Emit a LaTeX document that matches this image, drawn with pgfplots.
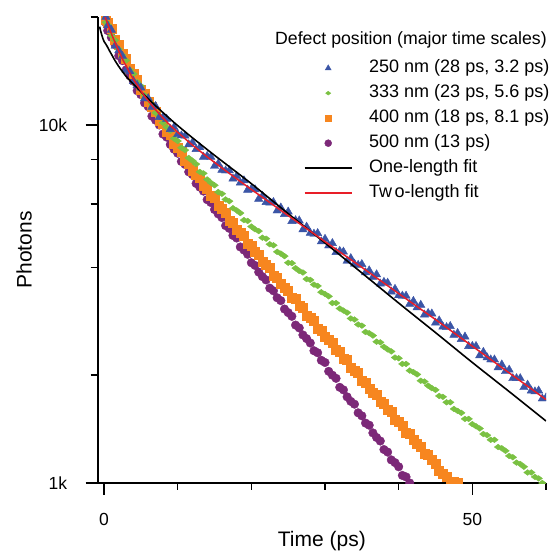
\documentclass[border=0pt]{standalone}
\usepackage{fontspec}
\setmainfont{Liberation Sans}
\usepackage{pgfplots}
\pgfplotsset{compat=1.18}
\definecolor{cblue}{RGB}{59,85,166}
\definecolor{cgreen}{RGB}{122,193,66}
\definecolor{corange}{RGB}{247,134,31}
\definecolor{cpurple}{RGB}{124,40,120}
\definecolor{cred}{RGB}{232,30,40}
\begin{document}
\begin{tikzpicture}
\useasboundingbox (-97.7bp,-69bp) rectangle (459.3bp,483bp);
\begin{axis}[
  clip marker paths=true,
  at={(0,0)}, anchor=south west,
  scale only axis, width=448.3bp, height=466bp,
  xmin=-0.86, xmax=60, ymode=log, ymin=1, ymax=20,
  axis lines=left, axis line style={-, line width=1.8bp},
  tick align=outside,
  xtick={0,50}, xticklabels={0,50}, minor xtick={10,20,30,40,60},
  ytick={1,10}, yticklabels={1k,10k}, minor ytick={2,4,6,8,20},
  major tick length=12bp, minor tick length=7bp,
  tick style={black, line width=1.6bp},
  /pgf/number format/assume math mode=true,
  tick label style={font=\fontsize{17.5bp}{20bp}\selectfont},
  xticklabel style={yshift=-15bp},
  yticklabel style={xshift=-15bp},
  xlabel={Time (ps)}, ylabel={Photons},
  label style={font=\fontsize{21bp}{24bp}\selectfont},
  xlabel style={at={(rel axis cs:0.5,0)}, anchor=base, yshift=-63bp},
  ylabel style={at={(rel axis cs:0,0.5)}, anchor=base, yshift=66bp},
  legend style={draw=none, fill=none, at={(rel axis cs:0.460,0.9084)}, anchor=north west,
    inner sep=0pt, outer sep=0pt, font=\fontsize{18bp}{21bp}\selectfont, row sep=8bp,
    nodes={inner sep=0pt, text height=13bp, text depth=4bp},
    /tikz/every odd column/.append style={column sep=16.7bp}},
  legend cell align=left,
  legend image code/.code={\draw[mark repeat=2,mark phase=2,#1] plot coordinates {(0bp,0bp) (23.5bp,0bp) (47bp,0bp)};},
]
\addlegendimage{only marks, mark=triangle*, color=cblue, mark size=3.4bp}
\addlegendentry{250 nm (28 ps, 3.2 ps)}
\addlegendimage{only marks, mark=diamond*, color=cgreen, mark size=2.6bp, mark options={rotate=90}}
\addlegendentry{333 nm (23 ps, 5.6 ps)}
\addlegendimage{only marks, mark=square*, color=corange, mark size=3.4bp}
\addlegendentry{400 nm (18 ps, 8.1 ps)}
\addlegendimage{only marks, mark=*, color=cpurple, mark size=3.5bp}
\addlegendentry{500 nm (13 ps)}
\addlegendimage{black, line width=1.6bp}
\addlegendentry{One-length fit}
\addlegendimage{color=cred, line width=1.4bp}
\addlegendentry{Tw\kern2.5bp o-length fit}

% 500 nm
\addplot[only marks, mark=*, color=cpurple, mark size=4.3bp, forget plot] coordinates {
(0.25,19.27)(0.5,18.32)(1,17.54)(1.5,16.75)(2,15.59)(2.5,15.11)(3,14.24)(3.5,13.70)(4,13.23)(4.5,12.45)(5,12.14)(5.5,11.51)(6,11.24)(6.5,10.57)(7,10.30)(7.5,9.99)(8,9.42)(8.5,9.24)(9,8.81)(9.5,8.55)(10,8.33)(10.5,7.90)(11,7.75)(11.5,7.39)(12,7.26)(12.5,6.86)(13,6.70)(13.5,6.53)(14,6.18)(14.5,6.07)(15,5.80)(15.5,5.64)(16,5.51)(16.5,5.23)(17,5.14)(17.5,4.91)(18,4.83)(18.5,4.56)(19,4.47)(19.5,4.35)(20,4.12)(20.5,4.05)(21,3.88)(21.5,3.77)(22,3.69)(22.5,3.50)(23,3.44)(23.5,3.29)(24,3.23)(24.5,3.06)(25,2.99)(25.5,2.92)(26,2.76)(26.5,2.71)(27,2.59)(27.5,2.53)(28,2.46)(28.5,2.34)(29,2.31)(29.5,2.20)(30,2.17)(30.5,2.05)(31,2.00)(31.5,1.96)(32,1.85)(32.5,1.82)(33,1.74)(33.5,1.69)(34,1.66)(34.5,1.57)(35,1.54)(35.5,1.47)(36,1.45)(36.5,1.38)(37,1.34)(37.5,1.31)(38,1.24)(38.5,1.22)(39,1.16)(39.5,1.14)(40,1.11)(40.5,1.05)(41,1.04)(41.5,1.00)
};
% 400 nm
\addplot[only marks, mark=square*, color=corange, mark size=4.5bp, forget plot] coordinates {
(0.25,19.66)(0.5,19.27)(1,18.50)(1.5,17.29)(2,16.74)(2.5,15.78)(3,15.30)(3.5,14.31)(4,13.85)(4.5,13.35)(5,12.53)(5.5,12.22)(6,11.60)(6.5,11.22)(7,10.89)(7.5,10.29)(8,10.06)(8.5,9.58)(9,9.38)(9.5,8.85)(10,8.65)(10.5,8.40)(11,7.95)(11.5,7.81)(12,7.47)(12.5,7.27)(13,7.10)(13.5,6.76)(14,6.64)(14.5,6.35)(15,6.25)(15.5,5.93)(16,5.82)(16.5,5.68)(17,5.39)(17.5,5.33)(18,5.11)(18.5,4.99)(19,4.89)(19.5,4.66)(20,4.60)(20.5,4.41)(21,4.35)(21.5,4.14)(22,4.07)(22.5,3.98)(23,3.78)(23.5,3.74)(24,3.60)(24.5,3.52)(25,3.45)(25.5,3.29)(26,3.26)(26.5,3.13)(27,3.09)(27.5,2.94)(28,2.89)(28.5,2.83)(29,2.70)(29.5,2.66)(30,2.56)(30.5,2.51)(31,2.46)(31.5,2.35)(32,2.33)(32.5,2.23)(33,2.21)(33.5,2.10)(34,2.06)(34.5,2.03)(35,1.93)(35.5,1.90)(36,1.83)(36.5,1.79)(37,1.76)(37.5,1.69)(38,1.66)(38.5,1.60)(39,1.58)(39.5,1.50)(40,1.48)(40.5,1.45)(41,1.38)(41.5,1.37)(42,1.32)(42.5,1.29)(43,1.26)(43.5,1.21)(44,1.20)(44.5,1.16)(45,1.13)(45.5,1.08)(46,1.06)(46.5,1.04)(47,1.00)(47.5,1.01)(48,1.00)
};
% 333 nm
\addplot[only marks, mark=diamond*, color=cgreen, mark size=3.8bp, mark options={rotate=90}, forget plot] coordinates {
(0.25,19.34)(0.5,19.02)(1,17.74)(1.5,17.22)(2,16.26)(2.5,15.64)(3,15.12)(3.5,14.24)(4,13.87)(4.5,13.16)(5,12.84)(5.5,12.09)(6,11.78)(6.5,11.43)(7,10.80)(7.5,10.60)(8,10.13)(8.5,9.85)(9,9.63)(9.5,9.16)(10,9.01)(10.5,8.63)(11,8.50)(11.5,8.08)(12,7.94)(12.5,7.77)(13,7.39)(13.5,7.32)(14,7.04)(14.5,6.89)(15,6.78)(15.5,6.49)(16,6.42)(16.5,6.19)(17,6.12)(17.5,5.85)(18,5.77)(18.5,5.67)(19,5.42)(19.5,5.39)(20,5.20)(20.5,5.11)(21,5.05)(21.5,4.84)(22,4.81)(22.5,4.64)(23,4.61)(23.5,4.42)(24,4.37)(24.5,4.30)(25,4.12)(25.5,4.11)(26,3.98)(26.5,3.91)(27,3.87)(27.5,3.71)(28,3.69)(28.5,3.58)(29,3.55)(29.5,3.41)(30,3.37)(30.5,3.32)(31,3.18)(31.5,3.18)(32,3.07)(32.5,3.03)(33,2.99)(33.5,2.88)(34,2.86)(34.5,2.77)(35,2.75)(35.5,2.64)(36,2.62)(36.5,2.58)(37,2.48)(37.5,2.47)(38,2.40)(38.5,2.36)(39,2.33)(39.5,2.24)(40,2.23)(40.5,2.15)(41,2.15)(41.5,2.06)(42,2.04)(42.5,2.01)(43,1.93)(43.5,1.92)(44,1.87)(44.5,1.84)(45,1.82)(45.5,1.75)(46,1.74)(46.5,1.68)(47,1.68)(47.5,1.61)(48,1.59)(48.5,1.57)(49,1.51)(49.5,1.51)(50,1.46)(50.5,1.44)(51,1.42)(51.5,1.37)(52,1.36)(52.5,1.32)(53,1.32)(53.5,1.26)(54,1.25)(54.5,1.23)(55,1.19)(55.5,1.18)(56,1.14)(56.5,1.13)(57,1.11)(57.5,1.07)(58,1.07)(58.5,1.04)(59,1.03)(59.5,1.00)
};
% 250 nm
\addplot[only marks, mark=triangle*, color=cblue, mark size=4.8bp, forget plot] coordinates {
(0.25,20.0)(0.5,18.94)(1,18.40)(1.5,16.61)(2,16.12)(2.5,15.55)(3,14.22)(3.5,14.10)(4,13.24)(4.5,12.90)(5,12.69)(5.5,11.84)(6,11.85)(6.5,11.22)(7,11.27)(7.5,10.50)(8,10.49)(8.5,10.38)(9,9.72)(9.5,9.84)(10,9.41)(10.5,9.33)(11,9.32)(11.5,8.81)(12,8.92)(12.5,8.55)(13,8.65)(13.5,8.13)(14,8.18)(14.5,8.13)(15,7.67)(15.5,7.79)(16,7.48)(16.5,7.45)(17,7.46)(17.5,7.07)(18,7.19)(18.5,6.89)(19,6.99)(19.5,6.58)(20,6.62)(20.5,6.60)(21,6.21)(21.5,6.33)(22,6.08)(22.5,6.06)(23,6.08)(23.5,5.76)(24,5.87)(24.5,5.63)(25,5.72)(25.5,5.38)(26,5.41)(26.5,5.40)(27,5.10)(27.5,5.19)(28,4.99)(28.5,4.96)(29,4.98)(29.5,4.72)(30,4.80)(30.5,4.60)(31,4.67)(31.5,4.41)(32,4.44)(32.5,4.42)(33,4.17)(33.5,4.24)(34,4.09)(34.5,4.06)(35,4.08)(35.5,3.87)(36,3.92)(36.5,3.76)(37,3.82)(37.5,3.60)(38,3.64)(38.5,3.62)(39,3.42)(39.5,3.48)(40,3.34)(40.5,3.33)(41,3.33)(41.5,3.16)(42,3.22)(42.5,3.09)(43,3.14)(43.5,2.95)(44,2.98)(44.5,2.97)(45,2.80)(45.5,2.84)(46,2.73)(46.5,2.72)(47,2.74)(47.5,2.59)(48,2.62)(48.5,2.52)(49,2.56)(49.5,2.41)(50,2.41)(50.5,2.41)(51,2.27)(51.5,2.32)(52,2.24)(52.5,2.21)(53,2.21)(53.5,2.10)(54,2.14)(54.5,2.05)(55,2.07)(55.5,1.96)(56,1.96)(56.5,1.96)(57,1.85)(57.5,1.88)(58,1.81)(58.5,1.80)(59,1.81)(59.5,1.72)(60,1.73)
};
% one-length fit
\addplot[black, line width=1.6bp, smooth, forget plot] coordinates {
(-0.6,18.8)(-0.45,18.25)(-0.3,17.8)(-0.15,17.4)(0,17.1)(0.2,16.85)(0.4,16.6)(0.7,16.15)(1,15.75)(1.5,15.1)(2,14.55)(2.5,14.08)(3,13.65)(3.5,13.3)(4,12.98)(5,12.38)(6,11.82)(7,11.3)(8,10.82)(9,10.37)(10,9.95)(12,9.2)(15,8.22)(20,6.85)(25,5.65)(30,4.68)(35,3.86)(40,3.18)(45,2.63)(50,2.17)(55,1.80)(60,1.49)
};
% two-length fit
\addplot[color=cred, line width=1.5bp, forget plot] coordinates {
(0.15,19.98)(0.25,19.73)(0.5,19.10)(0.75,18.5)(1,17.96)(1.5,16.95)(2,16.06)(2.5,15.27)(3,14.58)(3.5,13.96)(4,13.40)(4.5,12.90)(5,12.45)(5.5,12.04)(6,11.67)(7,11.01)(8,10.45)(9,9.96)(10,9.53)(12,8.78)(14,8.14)(16,7.58)(18,7.07)(20,6.60)(25,5.58)(30,4.72)(35,4.00)(40,3.38)(45,2.86)(50,2.41)(55,2.03)(60,1.71)
};
\node[anchor=base west, inner sep=0pt, font=\fontsize{17.7bp}{21bp}\selectfont] at (rel axis cs:0.3955,0.940) {Defect position (major time scales)};
\end{axis}
\end{tikzpicture}
\end{document}
